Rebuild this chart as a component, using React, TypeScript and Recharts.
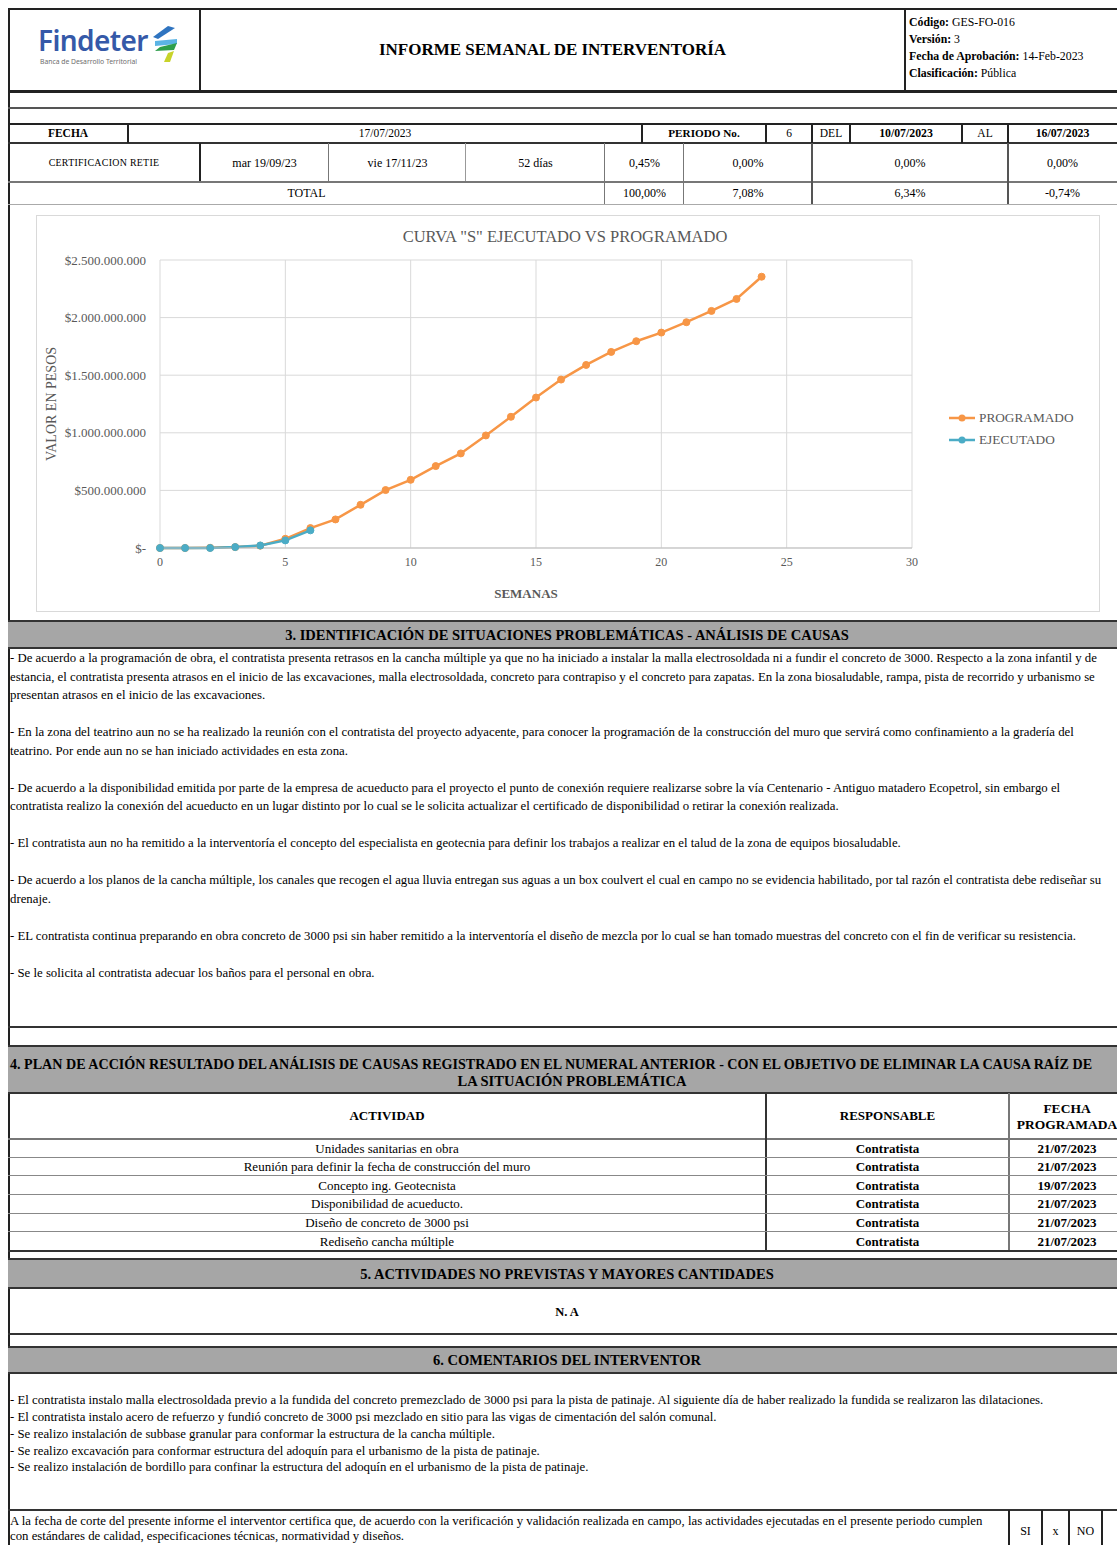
import React from "react";
import {
  CartesianGrid,
  Legend,
  Line,
  LineChart,
  XAxis,
  YAxis,
} from "recharts";

// ---- chart data ----
const semanas = [0, 1, 2, 3, 4, 5, 6, 7, 8, 9, 10, 11, 12, 13, 14, 15, 16, 17, 18, 19, 20, 21, 22, 23, 24];
const programado = [
  0, 0, 2e6, 8e6, 20e6, 80e6, 173e6, 248e6, 375e6, 503e6, 592e6, 711e6, 821e6,
  977e6, 1139e6, 1306e6, 1462e6, 1589e6, 1702e6, 1795e6, 1870e6, 1960e6,
  2058e6, 2162e6, 2355e6,
];
const ejecutado = [0, 0, 0, 8e6, 22e6, 66e6, 153e6];
const xTicks = [0, 5, 10, 15, 20, 25, 30];
const yTicks = [0, 5e8, 1e9, 1.5e9, 2e9, 2.5e9];
const seriesOrder = ["PROGRAMADO", "EJECUTADO"];

const chartRows = semanas.map((s, i) => ({
  semana: s,
  programado: programado[i],
  ejecutado: i < ejecutado.length ? ejecutado[i] : null,
}));

const ORANGE = "#F79646";
const TEAL = "#4BACC6";
const AXIS_TEXT = "#595959";
const SERIF = '"Liberation Serif", "Times New Roman", serif';

function formatPesos(v: number) {
  if (v === 0) return "$-";
  return "$" + String(Math.round(v)).replace(/\B(?=(\d{3})+(?!\d))/g, ".");
}

// ---- page text ----
const seccion3 = [
  [
    "- De acuerdo a la programación de obra, el contratista presenta retrasos en la cancha múltiple ya que no ha iniciado a instalar la malla electrosoldada ni a fundir el concreto de 3000. Respecto a la zona infantil y de",
    "estancia, el contratista presenta atrasos en el inicio de las excavaciones, malla electrosoldada, concreto para contrapiso y el concreto para zapatas. En la zona biosaludable, rampa, pista de recorrido y urbanismo se",
    "presentan atrasos en el inicio de las excavaciones.",
  ],
  [
    "- En la zona del teatrino aun no se ha realizado la reunión con el contratista del proyecto adyacente, para conocer la programación de la construcción del muro que servirá como confinamiento a la gradería del",
    "teatrino. Por ende aun no se han iniciado actividades en esta zona.",
  ],
  [
    "- De acuerdo a la disponibilidad emitida por parte de la empresa de acueducto para el proyecto el punto de conexión requiere realizarse sobre la vía Centenario - Antiguo matadero Ecopetrol, sin embargo el",
    "contratista realizo la conexión del acueducto en un lugar distinto por lo cual se le solicita actualizar el certificado de disponibilidad o retirar la conexión realizada.",
  ],
  [
    "- El contratista aun no ha remitido a la interventoría el concepto del especialista en geotecnia para definir los trabajos a realizar en el talud de la zona de equipos biosaludable.",
  ],
  [
    "- De acuerdo a los planos de la cancha múltiple, los canales que recogen el agua lluvia entregan sus aguas a un box coulvert el cual en campo no se evidencia habilitado, por tal razón el contratista debe rediseñar su",
    "drenaje.",
  ],
  [
    "- EL contratista continua preparando en obra concreto de 3000 psi sin haber remitido a la interventoría el diseño de mezcla por lo cual se han tomado muestras del concreto con el fin de verificar su resistencia.",
  ],
  ["- Se le solicita al contratista adecuar los baños para el personal en obra."],
];

const actividades = [
  ["Unidades sanitarias en obra", "Contratista", "21/07/2023"],
  ["Reunión para definir la fecha de construcción del muro", "Contratista", "21/07/2023"],
  ["Concepto ing. Geotecnista", "Contratista", "19/07/2023"],
  ["Disponibilidad de acueducto.", "Contratista", "21/07/2023"],
  ["Diseño de concreto de 3000 psi", "Contratista", "21/07/2023"],
  ["Rediseño cancha múltiple", "Contratista", "21/07/2023"],
];

const comentarios = [
  "- El contratista instalo malla electrosoldada previo a la fundida del concreto premezclado de 3000 psi para la pista de patinaje. Al siguiente día de haber realizado la fundida se realizaron las dilataciones.",
  "- El contratista instalo acero de refuerzo y fundió concreto de 3000 psi mezclado en sitio para las vigas de cimentación del salón comunal.",
  "- Se realizo instalación de subbase granular para conformar la estructura de la cancha múltiple.",
  "- Se realizo excavación para conformar estructura del adoquín para el urbanismo de la pista de patinaje.",
  "- Se realizo instalación de bordillo para confinar la estructura del adoquín en el urbanismo de la pista de patinaje.",
];

// ---- small layout helpers ----
const R = ({ x, y, w, h, c = "#222" }: { x: number; y: number; w: number; h: number; c?: string }) => (
  <div style={{ position: "absolute", left: x, top: y, width: w, height: h, background: c }} />
);
const H = (y: number, h = 2, c = "#222", x = 8, w = 1112) => <R x={x} y={y} w={w} h={h} c={c} />;
const V = (x: number, y: number, h: number, w = 1.5, c = "#222") => <R x={x} y={y} w={w} h={h} c={c} />;

type TProps = {
  x: number;
  w?: number;
  cy: number;
  size?: number;
  bold?: boolean;
  align?: "left" | "center" | "right";
  color?: string;
  children: React.ReactNode;
  spacing?: number;
};
const T = ({ x, w = 0, cy, size = 12, bold, align = "center", color = "#000", children, spacing }: TProps) => (
  <div
    style={{
      position: "absolute",
      left: align === "center" ? x - 500 + w / 2 : x,
      width: align === "center" ? 1000 : undefined,
      top: cy - size,
      height: size * 2,
      lineHeight: `${size * 2}px`,
      fontSize: size,
      fontWeight: bold ? 700 : 400,
      textAlign: align,
      color,
      whiteSpace: "nowrap",
      letterSpacing: spacing,
    }}
  >
    {children}
  </div>
);

function Logo() {
  return (
    <div style={{ position: "absolute", left: 38, top: 25 }}>
      <div
        style={{
          fontFamily: '"Noto Sans", "Open Sans", sans-serif',
          fontWeight: 600,
          fontSize: 28,
          color: "#3559A8",
          lineHeight: "31px",
          letterSpacing: -0.6,
        }}
      >
        Findeter
      </div>
      <div
        style={{
          fontFamily: '"Noto Sans", sans-serif',
          fontSize: 6.8,
          color: "#6d6d6d",
          marginTop: 1,
          marginLeft: 2,
        }}
      >
        Banca de Desarrollo Territorial
      </div>
      <svg width={28} height={38} style={{ position: "absolute", left: 113, top: 1 }}>
        <polygon points="17,0 24,2 7,13 2,11" fill="#2F74C0" />
        <polygon points="4,15 26,13 26,18 4,20" fill="#5BB4E5" />
        <polygon points="26,17 23,24 4,25 9,21" fill="#2E9E4B" />
        <polygon points="23,25 19,36 13,36 17,27" fill="#C8D32A" />
      </svg>
    </div>
  );
}

function LegendContent(props: any) {
  const items = [...((props.payload || []) as any[])].sort(
    (a, b) => seriesOrder.indexOf(a.value) - seriesOrder.indexOf(b.value)
  );
  return (
    <div style={{ fontFamily: SERIF }}>
      {items.map((it) => (
        <div key={it.value} style={{ display: "flex", alignItems: "center", height: 22 }}>
          <svg width={28} height={10} style={{ marginRight: 3 }}>
            <line x1={1} y1={5} x2={27} y2={5} stroke={it.color} strokeWidth={2.5} />
            <circle cx={14} cy={5} r={3.5} fill={it.color} />
          </svg>
          <span style={{ fontSize: 13.3, color: AXIS_TEXT }}>{it.value}</span>
        </div>
      ))}
    </div>
  );
}

function CurvaS() {
  return (
    <div
      style={{
        position: "absolute",
        left: 36,
        top: 215,
        width: 1064,
        height: 397,
        border: "1px solid #d9d9d9",
        boxSizing: "border-box",
        fontFamily: SERIF,
      }}
    >
      <div
        style={{
          position: "absolute",
          left: 0,
          width: 1056,
          top: 11,
          textAlign: "center",
          fontSize: 16.5,
          color: AXIS_TEXT,
          whiteSpace: "nowrap",
        }}
      >
        CURVA "S" EJECUTADO VS PROGRAMADO
      </div>
      <div style={{ position: "absolute", left: -1, top: -1 }}>
        <LineChart
          width={1064}
          height={397}
          data={chartRows}
          margin={{ top: 45, right: 188, bottom: 0, left: 0 }}
        >
          <CartesianGrid stroke="#d9d9d9" strokeWidth={1} />
          <XAxis
            type="number"
            dataKey="semana"
            domain={[0, 30]}
            ticks={xTicks}
            height={64}
            axisLine={{ stroke: "#bfbfbf" }}
            tickLine={false}
            tickMargin={3}
            tick={{ fill: AXIS_TEXT, fontSize: 12, fontFamily: SERIF }}
            label={{
              value: "SEMANAS",
              position: "insideBottom",
              offset: 14,
              dx: -10,
              fill: AXIS_TEXT,
              fontSize: 13,
              fontWeight: 700,
              fontFamily: SERIF,
            }}
          />
          <YAxis
            type="number"
            domain={[0, 2.5e9]}
            ticks={yTicks}
            width={124}
            axisLine={false}
            tickLine={false}
            tickMargin={8}
            tickFormatter={(v) => formatPesos(Number(v))}
            tick={{ fill: AXIS_TEXT, fontSize: 13, fontFamily: SERIF }}
            label={(p: any) => {
              const vb = p.viewBox || { x: 0, y: 0, height: 0 };
              const cx = 15;
              const cy = vb.y + vb.height / 2;
              return (
                <text
                  x={cx}
                  y={cy}
                  transform={`rotate(-90 ${cx} ${cy})`}
                  textAnchor="middle"
                  dominantBaseline="central"
                  fill={AXIS_TEXT}
                  fontSize={14}
                  fontFamily={SERIF}
                >
                  VALOR EN PESOS
                </text>
              );
            }}
          />
          <Legend
            layout="vertical"
            align="center"
            verticalAlign="middle"
            wrapperStyle={{ left: 912, top: 192, width: 150 }}
            content={<LegendContent />}
          />
          <Line
            name="PROGRAMADO"
            dataKey="programado"
            stroke={ORANGE}
            strokeWidth={2.5}
            dot={{ r: 3.5, fill: ORANGE, stroke: ORANGE, strokeWidth: 1 }}
            isAnimationActive={false}
          />
          <Line
            name="EJECUTADO"
            dataKey="ejecutado"
            stroke={TEAL}
            strokeWidth={2.5}
            dot={{ r: 3.5, fill: TEAL, stroke: TEAL, strokeWidth: 1 }}
            isAnimationActive={false}
          />
        </LineChart>
      </div>
    </div>
  );
}

const GRAY = "#a6a6a6";
const SECTION_SIZE = 14.5;
const BODY = 12.8;

export default function App() {
  return (
    <>
      <style>{`body{margin:0;background:#fff}`}</style>
      <div
        style={{
          position: "relative",
          width: 1117,
          height: 1545,
          overflow: "hidden",
          background: "#fff",
          fontFamily: SERIF,
          color: "#000",
        }}
      >
        {/* header */}
        {H(8, 2)}
        {H(90, 3)}
        {V(8, 8, 1537, 2)}
        {V(199, 8, 83, 2)}
        {V(904, 8, 83, 2)}
        <Logo />
        <T x={200} w={705} cy={50} size={17} bold>
          INFORME SEMANAL DE INTERVENTORÍA
        </T>
        {[
          ["Código:", " GES-FO-016", 23],
          ["Versión:", " 3", 40],
          ["Fecha de Aprobación:", " 14-Feb-2023", 57],
          ["Clasificación:", " Pública", 74],
        ].map(([b, n, y]) => (
          <T key={b as string} x={909} cy={y as number} size={11.8} align="left">
            <b>{b}</b>
            {n}
          </T>
        ))}

        {H(107, 2, "#555")}
        {H(123, 2)}

        {/* FECHA row */}
        {H(142, 1.5, "#333")}
        {V(127, 124, 19, 2)}
        {V(641, 124, 19)}
        {V(765, 124, 19)}
        {V(811, 124, 19, 2)}
        {V(849, 124, 19)}
        {V(961, 124, 19)}
        {V(1007, 124, 19)}
        <T x={8} w={120} cy={133.5} size={11.5} bold>FECHA</T>
        <T x={128} w={514} cy={133.5} size={11.5}>17/07/2023</T>
        <T x={642} w={124} cy={133.5} size={11.2} bold>PERIODO No.</T>
        <T x={766} w={46} cy={133.5} size={11.5}>6</T>
        <T x={812} w={38} cy={133.5} size={11.5}>DEL</T>
        <T x={850} w={112} cy={133.5} size={11.8} bold>10/07/2023</T>
        <T x={962} w={46} cy={133.5} size={11.5}>AL</T>
        <T x={1008} w={109} cy={133.5} size={11.8} bold>16/07/2023</T>

        {/* CERTIFICACION row */}
        {H(181, 1.5, "#777")}
        {V(199, 143, 38, 2)}
        {V(328, 143, 38, 1, "#777")}
        {V(465, 143, 38, 1, "#999")}
        {V(604, 143, 62, 1, "#777")}
        {V(683, 143, 62, 1, "#777")}
        {V(811, 143, 62, 1.5, "#555")}
        {V(1007, 143, 62, 1.5, "#555")}
        <T x={8} w={192} cy={162.5} size={9.9} spacing={0.3}>CERTIFICACION RETIE</T>
        <T x={200} w={129} cy={162.5}>mar 19/09/23</T>
        <T x={329} w={137} cy={162.5}>vie 17/11/23</T>
        <T x={466} w={139} cy={162.5}>52 días</T>
        <T x={605} w={79} cy={162.5}>0,45%</T>
        <T x={684} w={128} cy={162.5}>0,00%</T>
        <T x={812} w={196} cy={162.5}>0,00%</T>
        <T x={1008} w={109} cy={162.5}>0,00%</T>

        {/* TOTAL row */}
        {H(204, 1, "#aaa")}
        <T x={8} w={597} cy={193}>TOTAL</T>
        <T x={605} w={79} cy={193}>100,00%</T>
        <T x={684} w={128} cy={193}>7,08%</T>
        <T x={812} w={196} cy={193}>6,34%</T>
        <T x={1008} w={109} cy={193}>-0,74%</T>

        <CurvaS />

        {/* section 3 */}
        {H(620, 2, "#333")}
        <R x={8} y={622} w={1112} h={25} c={GRAY} />
        {H(647, 2, "#333")}
        <T x={8} w={1118} cy={635} size={SECTION_SIZE} bold>
          3. IDENTIFICACIÓN DE SITUACIONES PROBLEMÁTICAS - ANÁLISIS DE CAUSAS
        </T>
        {(() => {
          const out: React.ReactNode[] = [];
          let y = 659;
          seccion3.forEach((par, pi) => {
            par.forEach((line, li) => {
              out.push(
                <T key={`${pi}-${li}`} x={10} cy={y} size={BODY} align="left">
                  {line}
                </T>
              );
              y += 18.5;
            });
            y += 18.5;
          });
          return out;
        })()}

        {/* section 4 */}
        {H(1026, 1.5, "#333")}
        {H(1045, 2, "#333")}
        <R x={8} y={1047} w={1112} h={45} c={GRAY} />
        {H(1092, 2, "#333")}
        <T x={10} cy={1064} size={14.1} bold align="left">
          4. PLAN DE ACCIÓN RESULTADO DEL ANÁLISIS DE CAUSAS REGISTRADO EN EL NUMERAL ANTERIOR - CON EL OBJETIVO DE ELIMINAR LA CAUSA RAÍZ DE
        </T>
        <T x={8} w={1128} cy={1081} size={SECTION_SIZE} bold>
          LA SITUACIÓN PROBLEMÁTICA
        </T>
        {H(1138, 1.5, "#777")}
        {V(765, 1093, 158, 2, "#333")}
        {V(1008, 1093, 158, 1.5, "#777")}
        <T x={8} w={758} cy={1116} size={13} bold>ACTIVIDAD</T>
        <T x={766} w={243} cy={1116} size={13} bold>RESPONSABLE</T>
        <T x={1009} w={116} cy={1108} size={13.5} bold>FECHA</T>
        <T x={1009} w={116} cy={1124} size={13.5} bold>PROGRAMADA</T>
        {actividades.map((row, i) => {
          const top = 1139 + i * 18.65;
          const cy = top + 9.5;
          return (
            <React.Fragment key={row[0]}>
              {i > 0 && H(top - 1, 1, "#888")}
              <T x={8} w={758} cy={cy} size={13}>{row[0]}</T>
              <T x={766} w={243} cy={cy} size={13} bold>{row[1]}</T>
              <T x={1009} w={116} cy={cy} size={13} bold>{row[2]}</T>
            </React.Fragment>
          );
        })}
        {H(1250, 2, "#333")}

        {/* section 5 */}
        {H(1258, 2, "#333")}
        <R x={8} y={1260} w={1112} h={27} c={GRAY} />
        {H(1287, 2, "#333")}
        <T x={8} w={1118} cy={1274} size={SECTION_SIZE} bold>
          5. ACTIVIDADES NO PREVISTAS Y MAYORES CANTIDADES
        </T>
        <T x={8} w={1118} cy={1312} size={12.5} bold>N. A</T>
        {H(1333, 2, "#333")}

        {/* section 6 */}
        {H(1346, 2, "#333")}
        <R x={8} y={1348} w={1112} h={24} c={GRAY} />
        {H(1372, 2, "#333")}
        <T x={8} w={1118} cy={1360} size={SECTION_SIZE} bold>
          6. COMENTARIOS DEL INTERVENTOR
        </T>
        {comentarios.map((c, i) => (
          <T key={i} x={10} cy={1401 + i * 16.8} size={BODY} align="left">
            {c}
          </T>
        ))}

        {/* certification row */}
        {H(1509, 2, "#333")}
        <T x={10} cy={1522} size={BODY} align="left">
          A la fecha de corte del presente informe el interventor certifica que, de acuerdo con la verificación y validación realizada en campo, las actividades ejecutadas en el presente periodo cumplen
        </T>
        <T x={10} cy={1537} size={BODY} align="left">
          con estándares de calidad, especificaciones técnicas, normatividad y diseños.
        </T>
        {V(1008, 1510, 35, 2)}
        {V(1041, 1510, 35, 2)}
        {V(1068, 1510, 35, 2)}
        {V(1101, 1510, 35, 2)}
        <T x={1009} w={33} cy={1531}>SI</T>
        <T x={1042} w={27} cy={1531}>x</T>
        <T x={1069} w={33} cy={1531}>NO</T>
      </div>
    </>
  );
}
